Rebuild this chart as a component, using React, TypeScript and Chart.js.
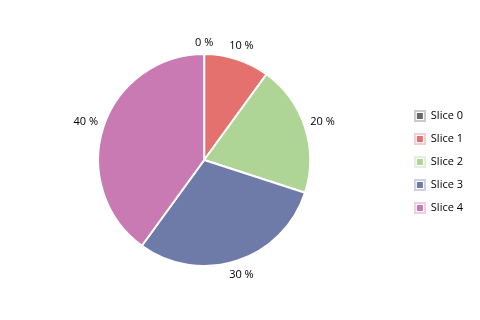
import React, { useEffect, useRef } from 'react';
import { Chart, registerables } from 'chart.js';

Chart.register(...registerables);

const categories = ['Slice 0', 'Slice 1', 'Slice 2', 'Slice 3', 'Slice 4'];
const values = [0, 10, 20, 30, 40];
const colors = ['#686868', '#E5716F', '#AED595', '#6E7BA9', '#C97AB3'];

const FONT = '"Open Sans", "Noto Sans", sans-serif';

function makeMarker(color: string): HTMLCanvasElement {
  const c = document.createElement('canvas');
  c.width = 12;
  c.height = 12;
  const ctx = c.getContext('2d')!;
  ctx.globalAlpha = 0.35;
  ctx.strokeStyle = color;
  ctx.lineWidth = 2;
  ctx.strokeRect(1, 1, 10, 10);
  ctx.globalAlpha = 1;
  ctx.fillStyle = color;
  ctx.fillRect(3, 3, 6, 6);
  return c;
}

const outLabels = {
  id: 'outLabels',
  afterDraw(chart: any) {
    const meta = chart.getDatasetMeta(0);
    const ctx = chart.ctx;
    const data = chart.data.datasets[0].data as number[];
    const total = data.reduce((a, b) => a + b, 0);
    ctx.save();
    ctx.font = `11px ${FONT}`;
    ctx.fillStyle = '#000';
    ctx.textAlign = 'center';
    ctx.textBaseline = 'middle';
    meta.data.forEach((arc: any, i: number) => {
      const { x, y, startAngle, endAngle, outerRadius } = arc.getProps(
        ['x', 'y', 'startAngle', 'endAngle', 'outerRadius'],
        true
      );
      const mid = (startAngle + endAngle) / 2;
      const text = `${Math.round((data[i] / total) * 100)} %`;
      const w = ctx.measureText(text).width;
      const h = 12;
      const cos = Math.cos(mid);
      const sin = Math.sin(mid);
      const r = outerRadius + 5 + (Math.abs(cos) * w) / 2 + (Math.abs(sin) * h) / 2;
      ctx.fillText(text, x + cos * r, y + sin * r);
    });
    ctx.restore();
  },
};

export default function App() {
  const ref = useRef<HTMLCanvasElement | null>(null);

  useEffect(() => {
    document.body.style.margin = '0';
    const markers = colors.map(makeMarker);
    const chart = new Chart(ref.current!, {
      type: 'pie',
      data: {
        labels: categories,
        datasets: [
          {
            data: values,
            backgroundColor: colors,
            borderColor: '#ffffff',
            borderWidth: 2,
          },
        ],
      },
      options: {
        responsive: false,
        animation: false,
        layout: { padding: { left: 6, right: 7, top: 53, bottom: 53 } },
        plugins: {
          tooltip: { enabled: false },
          legend: {
            position: 'right',
            title: {
              display: true,
              text: '',
              font: { size: 1, lineHeight: 1 },
              padding: { top: 3, bottom: 0 },
            },
            labels: {
              usePointStyle: true,
              boxWidth: 15,
              boxHeight: 12,
              padding: 12,
              color: '#000',
              font: { family: FONT, size: 11 },
              generateLabels: () =>
                categories.map((t, i) => ({
                  text: t,
                  pointStyle: markers[i],
                  fillStyle: colors[i],
                  strokeStyle: colors[i],
                  lineWidth: 0,
                  hidden: false,
                  index: i,
                  datasetIndex: 0,
                  fontColor: '#000',
                })),
            },
          },
        },
      },
      plugins: [outLabels],
    });
    return () => chart.destroy();
  }, []);

  return (
    <div style={{ width: 480, height: 320, background: '#fff' }}>
      <canvas ref={ref} width={480} height={320} />
    </div>
  );
}
